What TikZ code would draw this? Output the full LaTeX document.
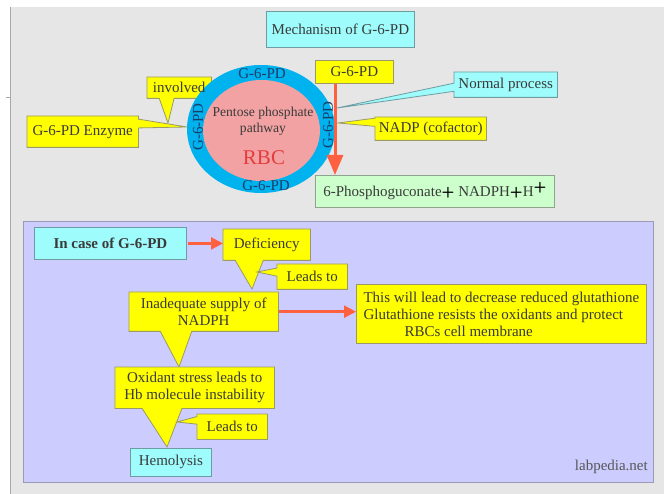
\documentclass[tikz,border=0pt]{standalone}
\usepackage{fontspec}
\setmainfont{Liberation Serif}
\newfontfamily\tms{Liberation Serif}
\usetikzlibrary{arrows.meta,calc,backgrounds}
\definecolor{bggray}{HTML}{E6E6E6}
\definecolor{edgegray}{HTML}{A8A8A8}
\definecolor{lav}{HTML}{CCCCFF}
\definecolor{lavbord}{HTML}{9A9AB4}
\definecolor{yel}{HTML}{FFFF00}
\definecolor{ybord}{HTML}{9A9A66}
\definecolor{cya}{HTML}{9EFCFC}
\definecolor{cbord}{HTML}{6E9CA0}
\definecolor{grn}{HTML}{CCFFCC}
\definecolor{gbord}{HTML}{8EA48E}
\definecolor{ringc}{HTML}{00B2EE}
\definecolor{pinkc}{HTML}{F2A2A2}
\definecolor{arrc}{HTML}{FF6040}
\definecolor{txt}{HTML}{3A3A3A}
\definecolor{ringtxt}{HTML}{1A3E6A}
\definecolor{rbc}{HTML}{E43C3C}
\tikzset{
  basetxt/.style={font=\tms\fontsize{15}{17}\selectfont, text=txt, inner sep=0pt, anchor=north west, align=center},
  ybox/.style={basetxt, fill=yel, draw=ybord, line width=0.8pt},
  cbox/.style={basetxt, fill=cya, draw=cbord, line width=0.8pt},
  gbox/.style={basetxt, fill=grn, draw=gbord, line width=0.8pt},
  ycall/.style={basetxt},
  ycallshape/.style={fill=yel, draw=ybord, line width=0.8pt, line join=miter},
  ccallshape/.style={fill=cya, draw=cbord, line width=0.8pt, line join=miter},
  ringlbl/.style={font=\tms\fontsize{15}{17}\selectfont, text=ringtxt, inner sep=0pt},
  orarrow/.style={draw=arrc, line width=3pt, -{Triangle[length=20pt,width=16pt]}},
  orarrowsm/.style={draw=arrc, line width=2.4pt, -{Triangle[length=12pt,width=12pt]}},
}
\begin{document}
\begin{tikzpicture}[x=1pt,y=-1pt]
\useasboundingbox (0,0) rectangle (664,494);
\begin{scope}[on background layer]
\fill[bggray] (10,7) rectangle (664,494);
\draw[edgegray, line width=1pt] (10,7) -- (10,494);
\draw[edgegray, line width=0.8pt] (6,97) -- (10,97);
\fill[lav] (23,221) rectangle (653,482);
\draw[lavbord, line width=0.8pt] (23,221) rectangle (653,482);
\end{scope}
% ---------- top part ----------
\node[cbox, minimum width=148pt, minimum height=36pt] (mech) at (266,11) {Mechanism of G-6-PD};
\fill[ringc] (261,129) ellipse [x radius=74, y radius=64];
\fill[pinkc] (261.5,130.5) ellipse [x radius=58.5, y radius=50.5];
\node[ringlbl] (rt) at (262,74) {G-6-PD};
\node[ringlbl] (rb) at (266,186) {G-6-PD};
\node[ringlbl, rotate=90] (rl) at (198,127) {G-6-PD};
\node[ringlbl, rotate=90] (rr) at (328,125) {G-6-PD};
\node[font=\tms\fontsize{13.6}{16}\selectfont, text=txt, align=center, inner sep=0pt] (pent) at (263,121) {Pentose phosphate\\pathway};
\node[font=\tms\fontsize{21}{24}\selectfont, text=rbc, inner sep=0pt] (rbc) at (264,158) {RBC};

\node[ybox, minimum width=78pt, minimum height=23pt] (g6) at (315,60) {G-6-PD};
\node[gbox, minimum width=239pt, minimum height=32pt] (prod) at (315,175)
  {6-Phosphoguconate{\sffamily\bfseries\color{black}+} NADPH{\sffamily\bfseries\color{black}+}H\raisebox{5pt}{\sffamily\bfseries\color{black}+}};

\node[ycall, minimum width=64pt, minimum height=21pt] (inv) at (147,77) {involved};
\node[ycall, minimum width=111pt, minimum height=31pt] (enz) at (27,116) {G-6-PD Enzyme};
\node[ycall, minimum width=103pt, minimum height=25pt] (norm) at (454,72) {Normal process};
\node[ycall, minimum width=111pt, minimum height=23pt] (nadp) at (375,117) {NADP (cofactor)};

\coordinate (invtip) at (168,123);
\coordinate (enztip) at (187,127);
\coordinate (normtip) at (337,108);
\coordinate (nadptip) at (338,123);

% ---------- bottom panel ----------
\node[cbox, minimum width=152pt, minimum height=32pt, font=\tms\fontsize{15}{17}\selectfont\bfseries] (incase) at (34,227) {In case of G-6-PD};
\node[ycall, minimum width=87pt, minimum height=31pt] (defic) at (223,229) {Deficiency};
\node[ycall, minimum width=70pt, minimum height=25pt] (lead1) at (277,264) {Leads to};
\node[ycall, minimum width=149pt, minimum height=39pt] (inad) at (129,292) {Inadequate supply of\\NADPH};
\node[ybox, minimum width=290pt, minimum height=59pt, align=left] (this) at (356,284)
  {This will lead to decrease reduced glutathione\\Glutathione resists the oxidants and protect\\\hspace*{41pt}RBCs cell membrane};
\node[ycall, minimum width=159pt, minimum height=41pt] (oxi) at (115,367) {Oxidant stress leads to\\Hb molecule instability};
\node[ycall, minimum width=70pt, minimum height=25pt] (lead2) at (197,414) {Leads to};
\node[cbox, minimum width=81pt, minimum height=28pt] (hemo) at (130,448) {Hemolysis};
\node[font=\tms\fontsize{15}{17}\selectfont, text=txt!85, inner sep=0pt, anchor=east] (lab) at (648,467) {labpedia.net};

\coordinate (defictip) at (252,289);
\coordinate (lead1tip) at (257,272);
\coordinate (inadtip) at (179,367);
\coordinate (oxitip) at (167,447);
\coordinate (lead2tip) at (177,422);

% ---------- callout shapes (behind text) ----------
\begin{scope}[on background layer]
\filldraw[ycallshape] (inv.north west) -- (inv.north east) -- (inv.south east)
  -- ($(inv.south west)!0.42!(inv.south east)$) -- (invtip)
  -- ($(inv.south west)!0.19!(inv.south east)$) -- (inv.south west) -- cycle;
\filldraw[ycallshape] (enz.north west) -- (enz.north east)
  -- ($(enz.north east)!0.1!(enz.south east)$) -- (enztip)
  -- ($(enz.north east)!0.38!(enz.south east)$) -- (enz.south east) -- (enz.south west) -- cycle;
\filldraw[ccallshape] (norm.north west) -- (norm.north east) -- (norm.south east) -- (norm.south west)
  -- ($(norm.north west)!0.76!(norm.south west)$) -- (normtip)
  -- ($(norm.north west)!0.44!(norm.south west)$) -- cycle;
\filldraw[ycallshape] (nadp.north west) -- (nadp.north east) -- (nadp.south east) -- (nadp.south west)
  -- ($(nadp.north west)!0.4!(nadp.south west)$) -- (nadptip)
  -- ($(nadp.north west)!0.05!(nadp.south west)$) -- cycle;
\filldraw[ycallshape] (defic.north west) -- (defic.north east) -- (defic.south east)
  -- ($(defic.south west)!0.46!(defic.south east)$) -- (defictip)
  -- ($(defic.south west)!0.14!(defic.south east)$) -- (defic.south west) -- cycle;
\filldraw[ycallshape] (lead1.north west) -- (lead1.north east) -- (lead1.south east) -- (lead1.south west)
  -- ($(lead1.north west)!0.48!(lead1.south west)$) -- (lead1tip)
  -- ($(lead1.north west)!0.16!(lead1.south west)$) -- cycle;
\filldraw[ycallshape] (inad.north west) -- (inad.north east) -- (inad.south east)
  -- ($(inad.south west)!0.42!(inad.south east)$) -- (inadtip)
  -- ($(inad.south west)!0.21!(inad.south east)$) -- (inad.south west) -- cycle;
\filldraw[ycallshape] (oxi.north west) -- (oxi.north east) -- (oxi.south east)
  -- ($(oxi.south west)!0.42!(oxi.south east)$) -- (oxitip)
  -- ($(oxi.south west)!0.17!(oxi.south east)$) -- (oxi.south west) -- cycle;
\filldraw[ycallshape] (lead2.north west) -- (lead2.north east) -- (lead2.south east) -- (lead2.south west)
  -- ($(lead2.north west)!0.4!(lead2.south west)$) -- (lead2tip)
  -- ($(lead2.north west)!0.1!(lead2.south west)$) -- cycle;
\end{scope}

% ---------- arrows ----------
\draw[orarrow] ([xshift=20pt]g6.south west) -- ([xshift=20pt]g6.south west |- prod.north);
\draw[orarrowsm] ([xshift=1pt]incase.east) -- (incase.east -| defic.west);
\draw[orarrowsm] ([xshift=1pt]inad.east) -- (inad.east -| this.west);
\end{tikzpicture}
\end{document}
